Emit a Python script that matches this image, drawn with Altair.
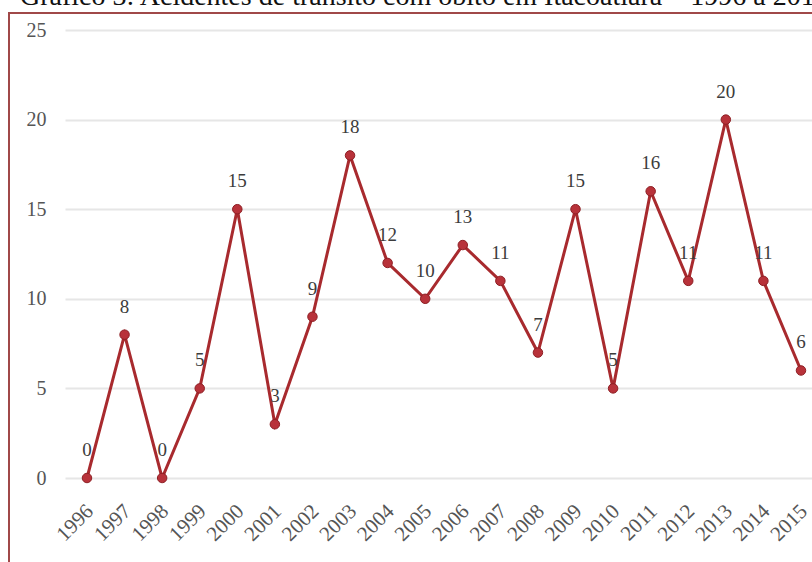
import altair as alt
import pandas as pd

years = list(range(1996, 2016))
values = [0, 8, 0, 5, 15, 3, 9, 18, 12, 10, 13, 11, 7, 15, 5, 16, 11, 20, 11, 6]
y_ticks = [0, 5, 10, 15, 20, 25]
title_text = "Gráfico 3: Acidentes de trânsito com óbito em Itacoatiara – 1996 a 2015"

df = pd.DataFrame({"ano": years, "obitos": values})
one = pd.DataFrame({"t": [title_text]})

SERIF = "Liberation Serif"
RED = "#a82a2e"

x = alt.X("ano:Q", scale=alt.Scale(domain=[1995.415, 2015.293], nice=False, zero=False),
          axis=alt.Axis(values=years, format="d", title=None, labelAngle=315,
                        labelFont=SERIF, labelFontSize=21, labelColor="#555555",
                        labelPadding=22, labelOffset=-5, tickCount=20,
                        ticks=False, domain=False, grid=False,
                        labelOverlap=False, labelFlush=False, labelBound=False))
y = alt.Y("obitos:Q", scale=alt.Scale(domain=[0, 25], nice=False),
          axis=alt.Axis(values=y_ticks, title=None, labelFont=SERIF, labelFontSize=20,
                        labelColor="#555555", labelPadding=19, ticks=False, domain=False,
                        gridColor="#e6e6e6", gridWidth=2))

base = alt.Chart(df)
line = base.mark_line(color=RED, strokeWidth=3).encode(x=x, y=y)
pts = base.mark_circle(color="#b8323a", opacity=1, size=90, stroke="#8e1f24", strokeWidth=1).encode(x=x, y=y)
labels = base.mark_text(dy=-28, font=SERIF, fontSize=19, color="#3c3c3c").encode(
    x=x, y=y, text="obitos:Q")

border = alt.Chart(one).mark_rect(fill=None, stroke="#a04848", strokeWidth=2).encode(
    x=alt.value(-56), x2=alt.value(800), y=alt.value(-17), y2=alt.value(560))
title = alt.Chart(one).mark_text(align="left", baseline="alphabetic", font=SERIF,
                                 fontSize=28, color="#111111").encode(
    x=alt.value(-45), y=alt.value(-25), text="t:N")

chart = alt.layer(border, line, pts, labels, title).properties(
    width=747, height=448,
    padding={"left": 65, "top": 30, "right": 0, "bottom": 84},
    autosize=alt.AutoSizeParams(type="none"),
    background="white",
).configure_view(stroke=None).configure_axisX(labelOverlap=False)

chart.save("out.html", embed_options={"renderer": "svg", "actions": False})
